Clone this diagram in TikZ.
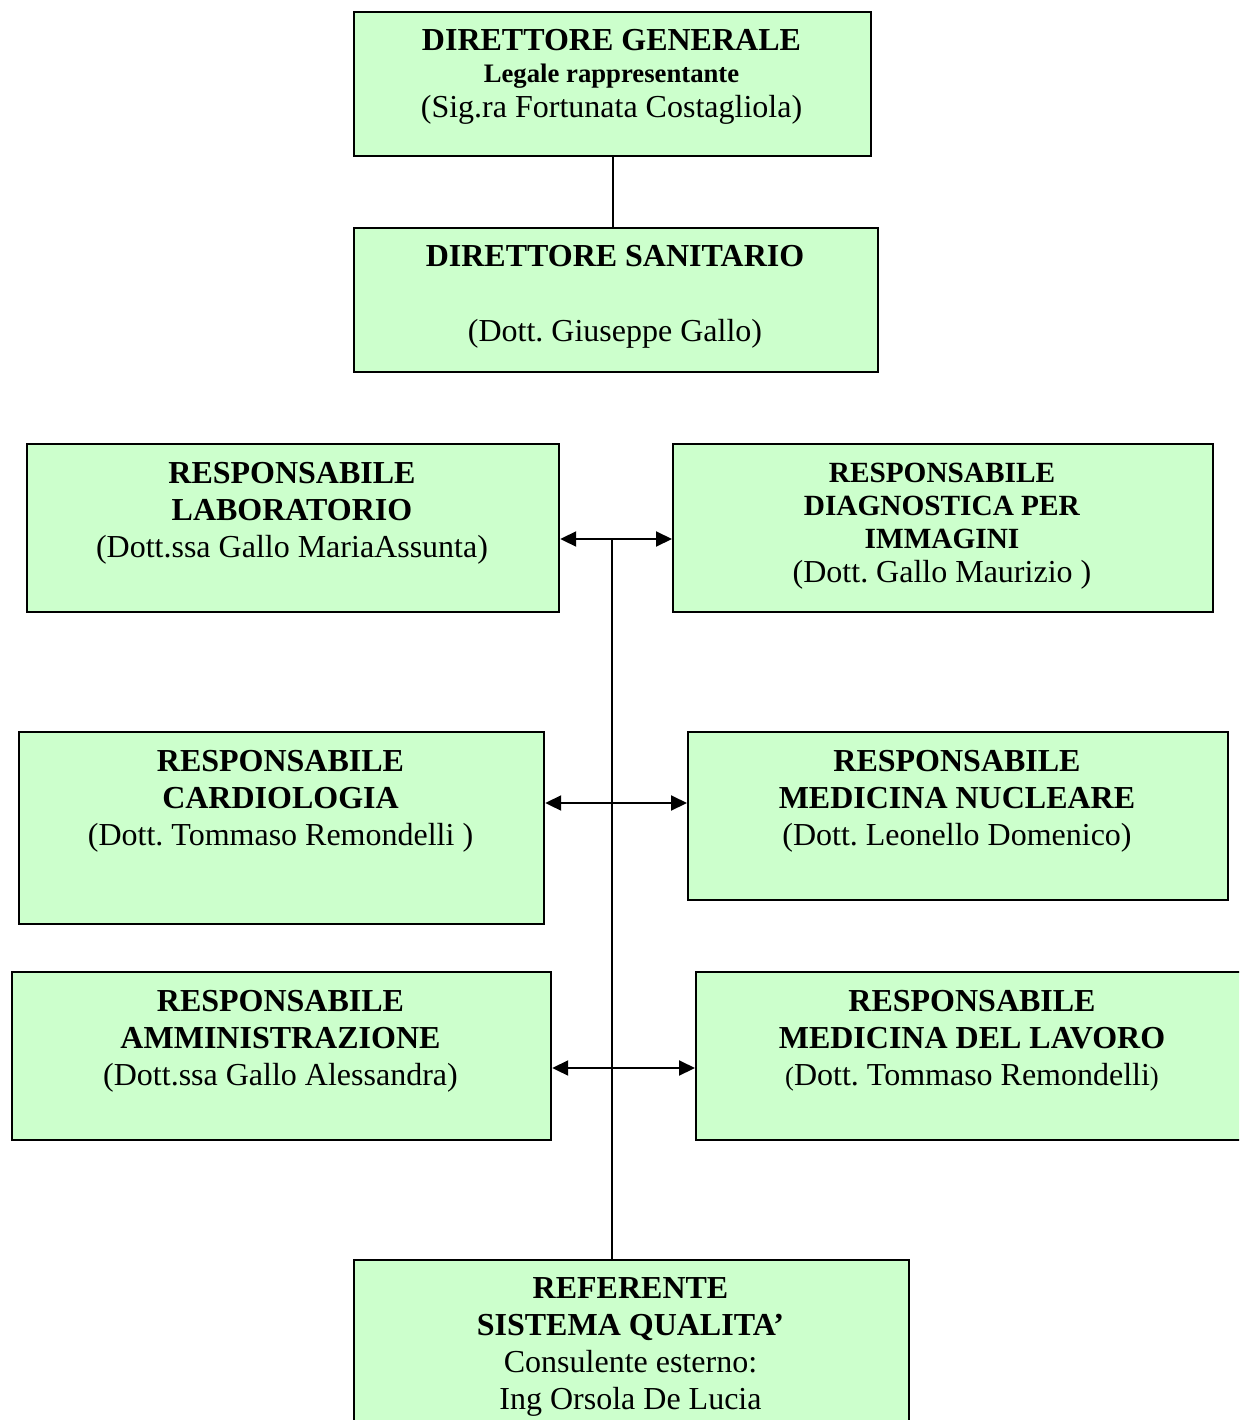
\documentclass[tikz,border=0pt]{standalone}
\usepackage{fontspec}
\setmainfont{Liberation Serif}
\usetikzlibrary{arrows.meta}
\definecolor{boxgreen}{RGB}{204,255,204}
\frenchspacing
\tikzset{
  orgbox/.style={draw=black, line width=2.2pt, fill=boxgreen, inner sep=0pt, anchor=north west},
  boxtext/.style={inner sep=0pt, anchor=base, align=center, font=\frenchspacing\fontsize{32}{37}\selectfont},
  smalltext/.style={inner sep=0pt, anchor=base, align=center, font=\frenchspacing\fontsize{29.3}{33}\selectfont},
  link/.style={line width=2pt, black},
  twoway/.style={line width=2pt, black, {Triangle[length=16pt,width=15pt]}-{Triangle[length=16pt,width=15pt]}}
}
\begin{document}
\begin{tikzpicture}[x=1pt,y=-1pt]
\useasboundingbox (0,0) rectangle (1239,1420);
\clip (0,0) rectangle (1239,1420);
% boxes
\node[orgbox, minimum width=517pt, minimum height=144pt] (gen) at (353,11) {};
\node[orgbox, minimum width=524pt, minimum height=144pt] (san) at (353,227) {};
\node[orgbox, minimum width=532pt, minimum height=168pt] (lab) at (26,443) {};
\node[orgbox, minimum width=540pt, minimum height=168pt] (diag) at (672,443) {};
\node[orgbox, minimum width=525pt, minimum height=192pt] (card) at (18,731) {};
\node[orgbox, minimum width=540pt, minimum height=168pt] (nuc) at (687,731) {};
\node[orgbox, minimum width=539pt, minimum height=168pt] (amm) at (11,971) {};
\node[orgbox, minimum width=554pt, minimum height=168pt] (lav) at (695,971) {};
\node[orgbox, minimum width=555pt, minimum height=200pt] (ref) at (353,1259) {};
% texts (anchor base = baseline of the last line)
\node[boxtext] (genT) at (611.5,118) {\textbf{DIRETTORE GENERALE}\\[-5pt]{\fontsize{26.7}{30}\selectfont\textbf{Legale rappresentante}}\\[-2pt](Sig.ra Fortunata Costagliola)};
\node[boxtext] (sanT) at (615,341) {\textbf{DIRETTORE SANITARIO}\\[37pt](Dott. Giuseppe Gallo)};
\node[boxtext] (labT) at (292,557) {\textbf{RESPONSABILE}\\\textbf{LABORATORIO}\\(Dott.ssa Gallo MariaAssunta)};
\node[smalltext] (diagT) at (942,582) {\textbf{RESPONSABILE}\\\textbf{DIAGNOSTICA PER}\\\textbf{IMMAGINI}\\[1pt]{\fontsize{32}{37}\selectfont(Dott. Gallo Maurizio )}};
\node[boxtext] (cardT) at (280.5,845) {\textbf{RESPONSABILE}\\\textbf{CARDIOLOGIA}\\(Dott. Tommaso Remondelli )};
\node[boxtext] (nucT) at (957,845) {\textbf{RESPONSABILE}\\\textbf{MEDICINA NUCLEARE}\\(Dott. Leonello Domenico)};
\node[boxtext] (ammT) at (280.5,1085) {\textbf{RESPONSABILE}\\\textbf{AMMINISTRAZIONE}\\(Dott.ssa Gallo Alessandra)};
\node[boxtext] (lavT) at (972,1085) {\textbf{RESPONSABILE}\\\textbf{MEDICINA DEL LAVORO}\\{\fontsize{26.7}{30}\selectfont(}Dott. Tommaso Remondelli{\fontsize{26.7}{30}\selectfont)}};
\node[boxtext] (refT) at (630.5,1409) {\textbf{REFERENTE}\\\textbf{SISTEMA QUALITA’}\\Consulente esterno:\\Ing Orsola De Lucia};
% connectors
\coordinate (row1) at (611.5,539);
\coordinate (row2) at (611.5,803);
\coordinate (row3) at (611.5,1068);
\draw[link] (gen.south) -- (gen.south |- san.north);
\draw[link] (row1) -- (row1 |- ref.north);
\draw[twoway] (lab.east |- row1) -- (diag.west |- row1);
\draw[twoway] (card.east |- row2) -- (nuc.west |- row2);
\draw[twoway] (amm.east |- row3) -- (lav.west |- row3);
\end{tikzpicture}
\end{document}
